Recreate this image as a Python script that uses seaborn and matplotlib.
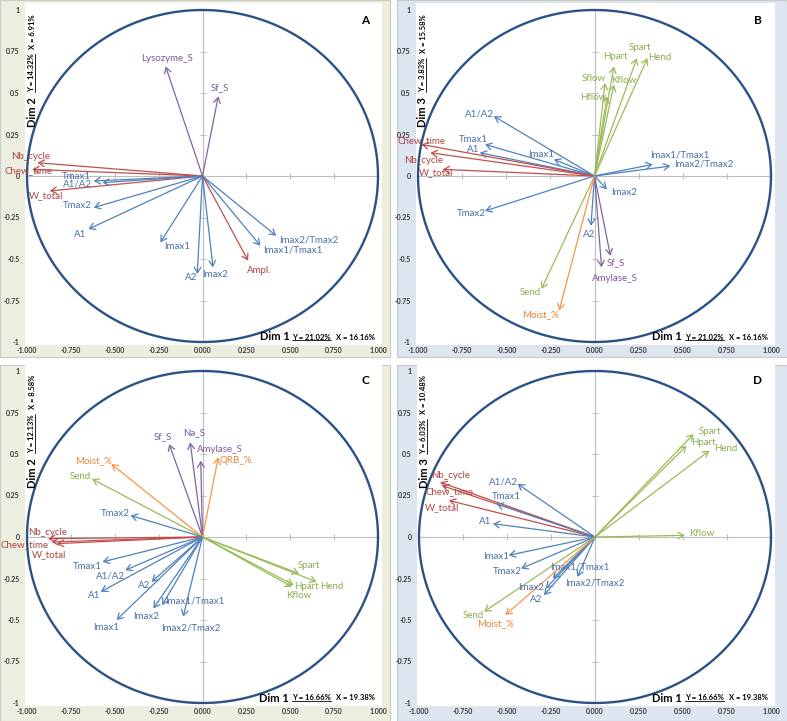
import numpy as np
import seaborn as sns
import matplotlib.pyplot as plt
from matplotlib.patches import Rectangle
from matplotlib.lines import Line2D

# ---- data (correlation of each variable with the two dims) ----
a_vars = ["Lysozyme_S", "Sf_S", "Nb_cycle", "Chew_time", "W_total", "Tmax1", "A1/A2", "Tmax2",
          "A1", "Imax1", "A2", "Imax2", "Imax1/Tmax1", "Imax2/Tmax2", "Ampl."]
a_dimx = [-0.21, 0.09, -0.94, -0.97, -0.87, -0.62, -0.57, -0.62, -0.65, -0.24, -0.03, 0.06, 0.33, 0.42, 0.26]
a_dimy = [0.66, 0.48, 0.08, 0.04, -0.09, -0.03, -0.04, -0.19, -0.32, -0.40, -0.59, -0.55, -0.42, -0.36, -0.51]

b_vars = ["Spart", "Hend", "Hpart", "Sflow", "Kflow", "Hflow", "A1/A2", "Tmax1", "A1", "Imax1",
          "Chew_time", "Nb_cycle", "W_total", "Imax1/Tmax1", "Imax2/Tmax2", "Imax2", "Tmax2", "A2",
          "Sf_S", "Amylase_S", "Send", "Moist_%"]
b_dimx = [0.24, 0.30, 0.11, 0.06, 0.11, 0.07, -0.57, -0.62, -0.65, -0.23, -0.98, -0.93, -0.86, 0.33,
          0.43, 0.07, -0.62, -0.02, 0.09, 0.04, -0.30, -0.20]
b_dimy = [0.71, 0.71, 0.66, 0.56, 0.55, 0.48, 0.36, 0.19, 0.14, 0.10, 0.19, 0.14, 0.04, 0.07, 0.06,
          -0.08, -0.21, -0.30, -0.48, -0.55, -0.68, -0.81]

c_vars = ["Sf_S", "Na_S", "Amylase_S", "QRB_%", "Moist_%", "Send", "Tmax2", "Nb_cycle", "Chew_time",
          "W_total", "Tmax1", "A1/A2", "A1", "A2", "Imax1", "Imax2", "Imax1/Tmax1", "Imax2/Tmax2",
          "Spart", "Hend", "Hpart", "Kflow"]
c_dimx = [-0.19, -0.07, -0.01, 0.09, -0.52, -0.63, -0.41, -0.88, -0.86, -0.83, -0.57, -0.44, -0.58,
          -0.29, -0.49, -0.28, -0.23, -0.11, 0.55, 0.65, 0.52, 0.51]
c_dimy = [0.56, 0.57, 0.46, 0.48, 0.44, 0.35, 0.13, -0.01, -0.03, -0.04, -0.15, -0.20, -0.33, -0.27,
          -0.50, -0.43, -0.41, -0.48, -0.22, -0.27, -0.29, -0.30]

d_vars = ["Spart", "Hpart", "Hend", "Kflow", "Nb_cycle", "Chew_time", "W_total", "A1/A2", "Tmax1",
          "A1", "Imax1", "Tmax2", "Imax1/Tmax1", "Imax2/Tmax2", "Imax2", "A2", "Send", "Moist_%"]
d_dimx = [0.56, 0.52, 0.65, 0.51, -0.88, -0.87, -0.83, -0.44, -0.56, -0.58, -0.49, -0.42, -0.24,
          -0.10, -0.28, -0.29, -0.63, -0.51]
d_dimy = [0.62, 0.55, 0.52, 0.01, 0.33, 0.31, 0.22, 0.32, 0.20, 0.08, -0.11, -0.19, -0.25, -0.24,
          -0.31, -0.35, -0.45, -0.47]

# axis titles / explained variance text
a_text = ["A", "Dim 2", "Y = 14.32%", "X = 6.91%", "Y = 21.02%", "X = 16.16%"]
b_text = ["B", "Dim 3", "Y = 3.83%", "X = 15.58%", "Y = 21.02%", "X = 16.16%"]
c_text = ["C", "Dim 2", "Y = 12.13%", "X = 8.58%", "Y = 16.66%", "X = 19.38%"]
d_text = ["D", "Dim 3", "Y = 6.03%", "X = 10.48%", "Y = 16.66%", "X = 19.38%"]

y_ticks = [1, 0.75, 0.5, 0.25, 0, -0.25, -0.5, -0.75, -1]
y_ticklabels = ["1", "0.75", "0.5", "0.25", "0", "-0.25", "-0.5", "-0.75", "-1"]
x_ticks = [-1, -0.75, -0.5, -0.25, 0, 0.25, 0.5, 0.75, 1]
x_ticklabels = ["-1.000", "-0.750", "-0.500", "-0.250", "0.000", "0.250", "0.500", "0.750", "1.000"]

groups = {
    "red": ["Nb_cycle", "Chew_time", "W_total", "Ampl."],
    "purple": ["Lysozyme_S", "Sf_S", "Na_S", "Amylase_S"],
    "green": ["Spart", "Hend", "Hpart", "Sflow", "Kflow", "Hflow", "Send"],
    "orange": ["Moist_%", "QRB_%"],
}
arrow_col = {"blue": "#4F81BD", "red": "#C0504D", "green": "#9BBB59", "purple": "#8064A2", "orange": "#F79646"}
text_col = {"blue": "#4A70A8", "red": "#AD4541", "green": "#8AAD4E", "purple": "#77599A", "orange": "#EE8433"}


def group_of(name):
    for g, members in groups.items():
        if name in members:
            return g
    return "blue"


# ---- label offsets from arrow tips (pixels) ----
a_off = {"Lysozyme_S": (1, 8), "Sf_S": (2, 9), "Nb_cycle": (-7, 6), "Chew_time": (-4, -1),
         "W_total": (-4, -5), "Tmax1": (-17, 4), "A1/A2": (-25, -1), "Tmax2": (-16, 2), "A1": (-8, -5),
         "Imax1": (17, -4), "A2": (-6, -4), "Imax2": (2, -7), "Imax1/Tmax1": (32, -4),
         "Imax2/Tmax2": (33, -4), "Ampl.": (11, -10)}
b_off = {"Spart": (3, 11), "Hend": (12, 1), "Hpart": (2, 10), "Sflow": (-11, 5), "Kflow": (10, 4),
         "Hflow": (-14, -1), "A1/A2": (-14, 2), "Tmax1": (-12, 5), "A1": (-7, 3), "Imax1": (-13, 5),
         "Chew_time": (0, 4), "Nb_cycle": (-7, -8), "W_total": (-7, -3), "Imax1/Tmax1": (27, 9),
         "Imax2/Tmax2": (33, 2), "Imax2": (17, -3), "Tmax2": (-14, -3), "A2": (-2, -9), "Sf_S": (6, -7),
         "Amylase_S": (13, -11), "Send": (-11, -4), "Moist_%": (-19, -4)}
c_off = {"Sf_S": (-6, 7), "Na_S": (4, 10), "Amylase_S": (19, 11), "QRB_%": (17, -3), "Moist_%": (-18, 3),
         "Send": (-12, 2), "Tmax2": (-15, 2), "Nb_cycle": (0, 6), "Chew_time": (-27, -3),
         "W_total": (-8, -11), "Tmax1": (-15, -5), "A1/A2": (-15, -6), "A1": (-7, -4), "A2": (-7, -4),
         "Imax1": (-10, -7), "Imax2": (-7, -8), "Imax1/Tmax1": (33, 4), "Imax2/Tmax2": (8, -11),
         "Spart": (10, 8), "Hend": (15, -5), "Hpart": (13, -1), "Kflow": (7, -9)}
d_off = {"Spart": (16, 3), "Hpart": (17, 3), "Hend": (16, 2), "Kflow": (17, 2), "Nb_cycle": (11, 7),
         "Chew_time": (8, -6), "W_total": (-7, -7), "A1/A2": (-14, 2), "Tmax1": (10, 7), "A1": (-8, 2),
         "Imax1": (-13, -1), "Tmax2": (-14, -3), "Imax1/Tmax1": (27, 12), "Imax2/Tmax2": (17, -6),
         "Imax2": (-15, 1), "A2": (-8, -4), "Send": (-11, -4), "Moist_%": (-10, -9)}

W, H = 787, 721
# panel background box and pixel position of -1 / +1 on each axis
panels = [
    dict(vars=a_vars, xs=a_dimx, ys=a_dimy, off=a_off, txt=a_text, bg="#ECEFE0",
         box=(0, 0, 390, 357), xl=27, xr=378, yt=10, yb=342),
    dict(vars=b_vars, xs=b_dimx, ys=b_dimy, off=b_off, txt=b_text, bg="#DCE5F0",
         box=(397, 0, 787, 357), xl=418, xr=771, yt=10, yb=342),
    dict(vars=c_vars, xs=c_dimx, ys=c_dimy, off=c_off, txt=c_text, bg="#ECEFE0",
         box=(0, 365, 390, 721), xl=27, xr=378, yt=371, yb=703),
    dict(vars=d_vars, xs=d_dimx, ys=d_dimy, off=d_off, txt=d_text, bg="#DCE5F0",
         box=(397, 365, 787, 721), xl=419, xr=771, yt=371, yb=703),
]

sns.set_theme(style="white")
plt.rcParams["font.family"] = ["Lato", "DejaVu Sans"]

fig = plt.figure(figsize=(W / 100, H / 100), dpi=100)
fig.patch.set_facecolor("white")

theta = np.linspace(0, 2 * np.pi, 400)
underlines = []

for p in panels:
    x0, y0, x1, y1 = p["box"]
    bg = Rectangle((x0 / W, 1 - y1 / H), (x1 - x0) / W, (y1 - y0) / H,
                   transform=fig.transFigure, facecolor=p["bg"],
                   edgecolor="#C9CCC0", lw=0.8, zorder=-5)
    fig.add_artist(bg)
    xl, xr, yt, yb = p["xl"], p["xr"], p["yt"], p["yb"]
    al, ar, at, ab = xl - 2, xr + 4, yt - 7, yb + 3
    ax = fig.add_axes([al / W, 1 - ab / H, (ar - al) / W, (ab - at) / H])
    ax.set_zorder(1)
    sx = (xr - xl) / 2
    sy = (yb - yt) / 2
    ax.set_xlim(-1 - 2 / sx, 1 + 4 / sx)
    ax.set_ylim(-1 - 3 / sy, 1 + 7 / sy)
    ax.set_facecolor("white")
    for s in ax.spines.values():
        s.set_visible(False)

    def px2data(px, py):
        return (px - xl) / sx - 1, 1 - (py - yt) / sy

    # axes through origin with small tick marks
    ax.plot(x_ticks, [0] * len(x_ticks), color="#BDBDBD", lw=0.8, marker="|", ms=4, mew=0.8, zorder=1)
    ax.plot([0] * len(y_ticks), y_ticks, color="#BDBDBD", lw=0.8, marker="_", ms=4, mew=0.8, zorder=1)

    # correlation circle
    sns.lineplot(x=np.cos(theta), y=np.sin(theta), sort=False, estimator=None,
                 color="#2B5287", lw=1.7, ax=ax, zorder=2)

    ax.set_xticks(x_ticks)
    ax.set_xticklabels(x_ticklabels)
    ax.set_yticks(y_ticks)
    ax.set_yticklabels(y_ticklabels)
    ax.tick_params(axis="both", length=0, labelsize=5, labelcolor="#333333")
    ax.tick_params(axis="y", pad=4)
    ax.tick_params(axis="x", pad=1.5)
    for t in ax.get_xticklabels() + ax.get_yticklabels():
        t.set_fontweight("bold")
    ax.set_xlabel("")
    ax.set_ylabel("")

    # arrows + labels
    for name, vx, vy in zip(p["vars"], p["xs"], p["ys"]):
        g = group_of(name)
        ax.annotate("", xy=(vx, vy), xytext=(0, 0),
                    arrowprops=dict(arrowstyle="->,head_length=0.5,head_width=0.3",
                                    color=arrow_col[g], lw=0.9, shrinkA=0, shrinkB=0,
                                    mutation_scale=8), zorder=3)
    for name, vx, vy in zip(p["vars"], p["xs"], p["ys"]):
        g = group_of(name)
        dx, dy = p["off"][name]
        ax.annotate(name, xy=(vx, vy), xytext=(dx, dy), textcoords="offset pixels",
                    ha="center", va="center", fontsize=7, color=text_col[g], zorder=4)

    letter, dimv, yv, xv, yh, xh = p["txt"]
    lx, ly = px2data(xr - 13, yt + 10)
    ax.text(lx, ly, letter, fontsize=8.5, fontweight="bold", color="black", ha="center", va="center")

    # vertical dim label (left side), chained top -> bottom
    vx_, top1 = px2data(xl + 5, yt + 4)
    t1 = ax.text(vx_, top1, xv, rotation=90, fontsize=5.5, fontweight="bold",
                 ha="center", va="top", color="black")
    t2 = ax.annotate(yv, xy=(0.5, 0), xycoords=t1, xytext=(0, -5), textcoords="offset pixels",
                     rotation=90, fontsize=5.5, fontweight="bold", ha="center", va="top", color="black")
    ax.annotate(dimv, xy=(0.5, 0), xycoords=t2, xytext=(0, -5), textcoords="offset pixels",
                rotation=90, fontsize=8, fontweight="bold", ha="center", va="top", color="black")
    underlines.append(("v", t2))

    # horizontal dim label (bottom right), chained right -> left
    hx1, by = px2data(xr - 3, yb - 5)
    h1 = ax.text(hx1, by, xh, fontsize=5.5, fontweight="bold", ha="right", va="center", color="black")
    h2 = ax.annotate(yh, xy=(0, 0.5), xycoords=h1, xytext=(-5, 0), textcoords="offset pixels",
                     fontsize=5.5, fontweight="bold", ha="right", va="center", color="black")
    ax.annotate("Dim 1", xy=(0, 0.5), xycoords=h2, xytext=(-3, 0), textcoords="offset pixels",
                fontsize=8, fontweight="bold", ha="right", va="center", color="black")
    underlines.append(("h", h2))

# underline the "Y = ..." texts
fig.canvas.draw()
renderer = fig.canvas.get_renderer()
for kind, t in underlines:
    bb = t.get_window_extent(renderer)
    if kind == "h":
        fig.add_artist(Line2D([bb.x0 / W, bb.x1 / W], [(bb.y0 + 0.5) / H] * 2, color="black", lw=0.6, zorder=5))
    else:
        fig.add_artist(Line2D([(bb.x1 - 0.5) / W] * 2, [bb.y0 / H, bb.y1 / H], color="black", lw=0.6, zorder=5))

fig.savefig("out.png", dpi=100, facecolor="white")
